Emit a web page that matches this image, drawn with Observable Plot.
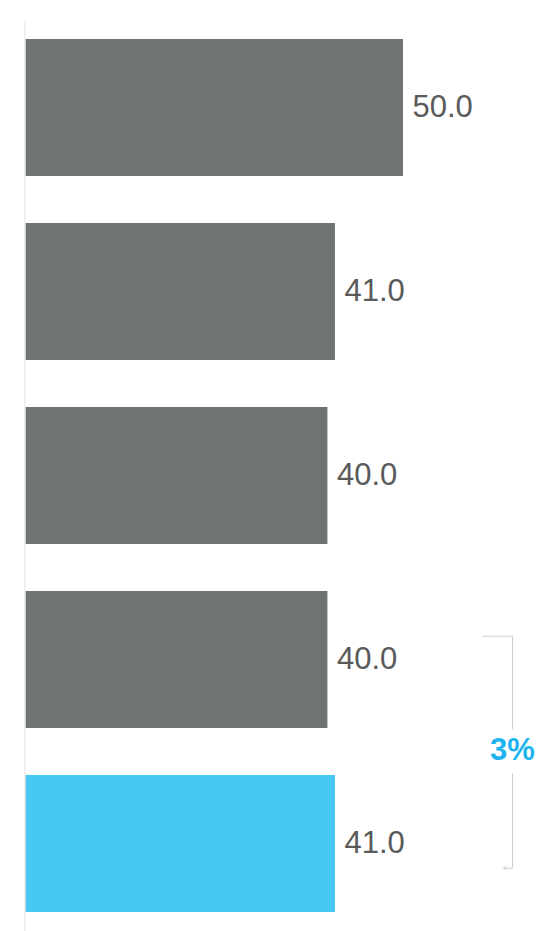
<!DOCTYPE html>
<html>
<head>
<meta charset="utf-8">
<script src="https://cdn.jsdelivr.net/npm/d3@7"></script>
<script src="https://cdn.jsdelivr.net/npm/@observablehq/plot@0.6"></script>
<style>
  html, body { margin: 0; padding: 0; background: #fff; }
  svg { display: block; }
</style>
</head>
<body>
<div id="chart"></div>
<script>
const categories = ["A", "B", "C", "D", "E"];
const values = [50.0, 41.0, 40.0, 40.0, 41.0];
const highlight = [false, false, false, false, true];
const changeLabel = "3%";

const data = categories.map((c, i) => ({cat: c, value: values[i], hi: highlight[i]}));

const W = 540, H = 931;
const plot = Plot.plot({
  width: W,
  height: H,
  marginLeft: 25,
  marginRight: 137,
  marginTop: 21,
  marginBottom: 0,
  style: {fontFamily: "'Liberation Sans', Arial, sans-serif", background: "#fff"},
  x: {domain: [0, 50], axis: null},
  y: {domain: categories, axis: null, paddingInner: 0.255, paddingOuter: 0.1},
  marks: [
    Plot.barX(data, {x: "value", y: "cat", fill: d => d.hi ? "#48c9f3" : "#6f7472"}),
    Plot.ruleX([0], {stroke: "#ebebeb", strokeWidth: 1.5, dx: -0.5}),
    Plot.text(data, {x: "value", y: "cat", text: d => d.value.toFixed(1), textAnchor: "start", dx: 9, dy: -1, fontSize: 31, fill: "#5a5a5a"})
  ]
});

// bracket annotation between bars D and E
const ys = plot.scale("y");
const bw = ys.bandwidth;
const yTop = ys.apply("D") + bw * 0.33;
const yBot = ys.apply("E") + bw * 0.68;
const xB = 512.5;
const svg = d3.select(plot);
const g = svg.append("g").attr("fill", "none").attr("stroke", "#cfcfcf").attr("stroke-width", 1);
const yMid = (yTop + yBot) / 2 - 3;
g.append("path").attr("d", `M${xB - 30},${yTop}H${xB}V${yMid - 20}`);
g.append("path").attr("d", `M${xB},${yMid + 24}V${yBot}H${xB - 9}`);
g.append("path").attr("d", `M${xB - 6},${yBot - 2}L${xB - 9},${yBot}L${xB - 6},${yBot + 2}`);
svg.append("text")
  .attr("x", xB).attr("y", yMid)
  .attr("text-anchor", "middle").attr("dominant-baseline", "central")
  .attr("font-family", "'Liberation Sans', Arial, sans-serif")
  .attr("font-weight", "bold").attr("font-size", 31)
  .attr("fill", "#1fb4ef")
  .text(changeLabel);

document.getElementById("chart").append(plot);
</script>
</body>
</html>
